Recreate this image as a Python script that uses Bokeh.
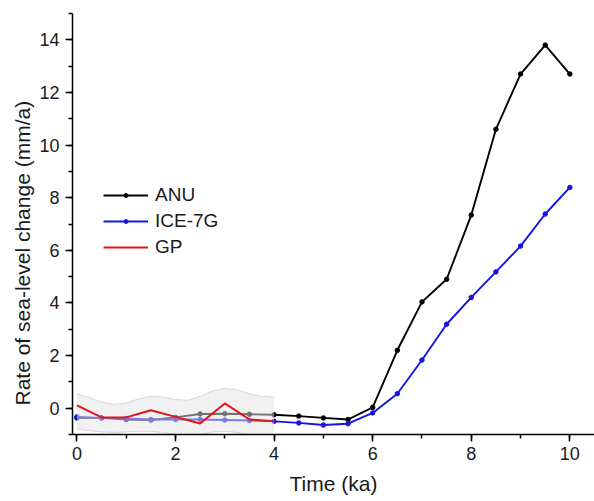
from bokeh.plotting import figure
from bokeh.models import Range1d, SingleIntervalTicker, Legend, LegendItem, Title
from bokeh.embed import file_html
from bokeh.resources import INLINE

# ---- data ----
time_ka = [0, 0.5, 1, 1.5, 2, 2.5, 3, 3.5, 4, 4.5, 5, 5.5, 6, 6.5, 7, 7.5, 8, 8.5, 9, 9.5, 10]
anu = [-0.37, -0.37, -0.43, -0.45, -0.35, -0.22, -0.21, -0.23, -0.25, -0.30, -0.37, -0.43,
       0.03, 2.2, 4.04, 4.9, 7.34, 10.6, 12.7, 13.8, 12.7]
ice7g = [-0.33, -0.37, -0.39, -0.43, -0.43, -0.43, -0.45, -0.47, -0.50, -0.56, -0.64, -0.59,
         -0.18, 0.55, 1.83, 3.19, 4.21, 5.18, 6.16, 7.38, 8.39]
gp_time = [0, 0.5, 1, 1.5, 2, 2.5, 3, 3.5, 4]
gp = [0.11, -0.35, -0.35, -0.08, -0.33, -0.58, 0.18, -0.43, -0.50]
band_time = [0, 0.25, 0.5, 0.75, 1.0, 1.25, 1.5, 1.75, 2.0, 2.25, 2.5, 2.75, 3.0, 3.25, 3.5, 3.75, 4.0]
band_upper = [0.55, 0.40, 0.22, 0.15, 0.20, 0.35, 0.45, 0.42, 0.33, 0.30, 0.45, 0.65, 0.75, 0.70, 0.55, 0.45, 0.42]
band_lower = [-0.80, -0.85, -0.90, -0.92, -0.90, -0.88, -0.88, -0.92, -1.00, -1.05, -1.00, -0.90, -0.88, -0.92, -1.00, -1.05, -1.05]

x_title = "Time (ka)"
y_title = "Rate of sea-level change (mm/a)"

FONT = "Liberation Sans"
TXT = "#1a1a1a"

p = figure(width=594, height=501, output_backend="svg", toolbar_location=None,
           x_range=Range1d(-0.09, 10.5), y_range=Range1d(-1, 15),
           min_border_left=72, min_border_right=0, min_border_top=13, min_border_bottom=67)
p.outline_line_color = None
p.xgrid.visible = False
p.ygrid.visible = False
p.background_fill_color = "white"

anu_line = p.line(time_ka, anu, line_color="black", line_width=1.9)
anu_pts = p.scatter(time_ka, anu, size=4.5, color="black")
ice_line = p.line(time_ka, ice7g, line_color="#1414e6", line_width=1.9)
ice_pts = p.scatter(time_ka, ice7g, size=4.5, color="#1414e6")

p.varea(x=band_time, y1=band_lower, y2=band_upper, fill_color="#e4e4e4", fill_alpha=0.5)
p.line(band_time, band_upper, line_color="#d6d6d6", line_width=1)
p.line(band_time, band_lower, line_color="#d6d6d6", line_width=1)

gp_line = p.line(gp_time, gp, line_color="#e3121b", line_width=2)

for ax in (p.xaxis[0], p.yaxis[0]):
    ax.ticker = SingleIntervalTicker(interval=2, num_minor_ticks=2)
    ax.axis_line_width = 1.5
    ax.axis_line_color = "black"
    ax.major_tick_line_width = 1.5
    ax.minor_tick_line_width = 1.5
    ax.major_tick_line_color = "black"
    ax.minor_tick_line_color = "black"
    ax.major_tick_in = 0
    ax.major_tick_out = 7
    ax.minor_tick_in = 0
    ax.minor_tick_out = 4
    ax.major_label_text_font = FONT
    ax.major_label_text_font_size = "18px"
    ax.major_label_text_color = TXT
    ax.axis_label_text_font = FONT
    ax.axis_label_text_font_size = "21px"
    ax.axis_label_text_font_style = "normal"
    ax.axis_label_text_color = TXT

p.xaxis.axis_label = x_title
p.xaxis.major_label_standoff = 5
p.xaxis.axis_label_standoff = 9
p.yaxis.major_label_standoff = 6

ytitle = Title(text=y_title, align="left", offset=29, standoff=6,
               text_font=FONT, text_font_size="21px", text_font_style="normal",
               text_color=TXT)
p.add_layout(ytitle, "left")

legend = Legend(items=[
    LegendItem(label="ANU", renderers=[anu_line, anu_pts]),
    LegendItem(label="ICE-7G", renderers=[ice_line, ice_pts]),
    LegendItem(label="GP", renderers=[gp_line]),
], location=(31, 176))
legend.border_line_color = None
legend.background_fill_alpha = 0
legend.margin = 0
legend.padding = 0
legend.spacing = 4
legend.glyph_width = 45
legend.glyph_height = 10
legend.label_height = 20
legend.label_standoff = 7
legend.label_text_font = FONT
legend.label_text_font_size = "19px"
legend.label_text_color = TXT
p.add_layout(legend)

open("out.html", "w").write(file_html(p, INLINE))
